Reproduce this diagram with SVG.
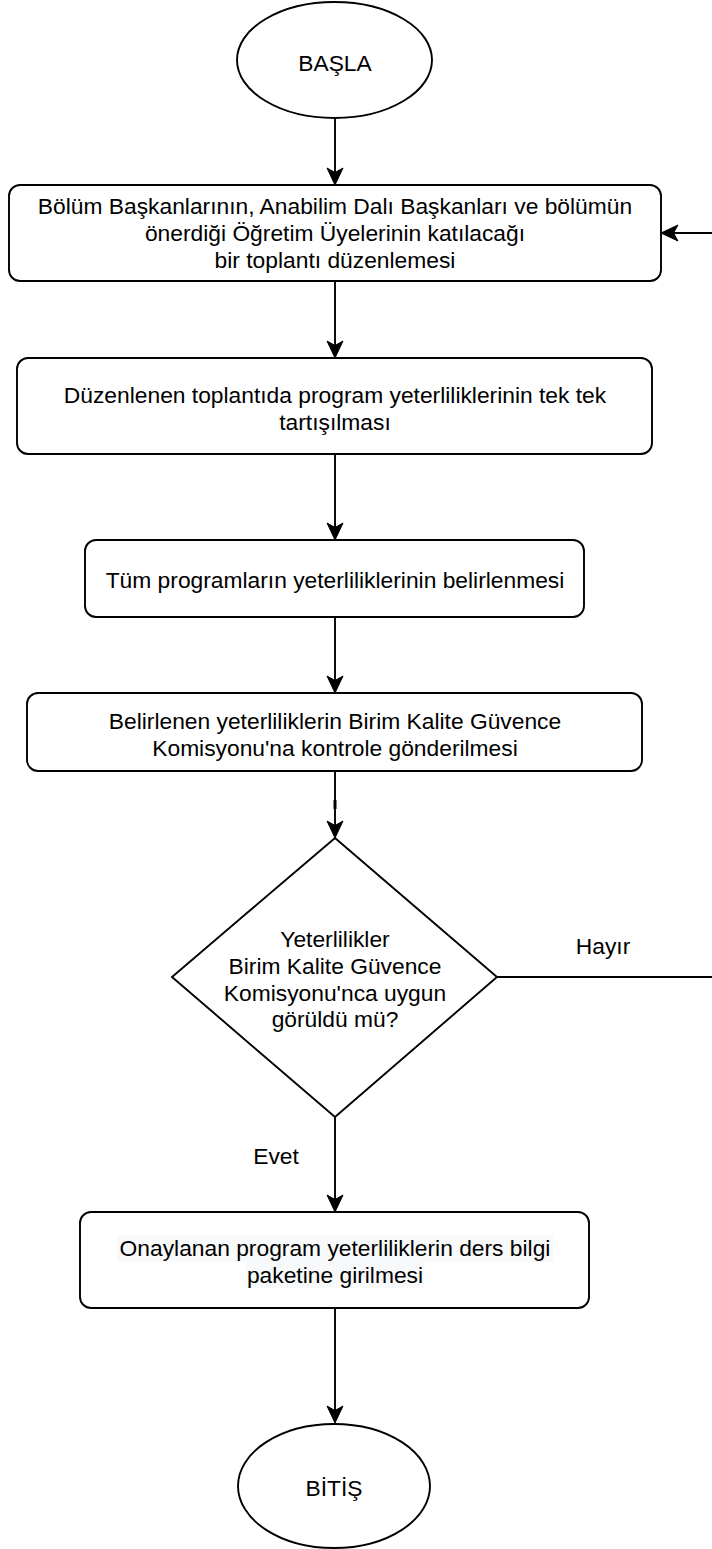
<svg xmlns="http://www.w3.org/2000/svg" width="712" height="1549" viewBox="0 0 712 1549">
<style>
.shape{fill:#ffffff;stroke:#000000;stroke-width:1.9}
.conn{fill:none;stroke:#000000;stroke-width:1.9}
.t{font-family:"Liberation Sans",Arial,Helvetica,sans-serif;font-size:22.8px;fill:#000000;text-anchor:middle}
.hl{fill:#f8f9fa}
</style>
<defs>
<marker id="arr" markerUnits="userSpaceOnUse" markerWidth="22" markerHeight="20" viewBox="-16 -10 22 20" refX="0" refY="0" orient="auto">
<path d="M3,0 L-14,-8 L-9.5,0 L-14,8 Z" fill="#000000" stroke="#000000" stroke-width="1"/>
</marker>
</defs>
<rect width="712" height="1549" fill="#ffffff"/>

<g id="connectors">
<line class="conn" x1="335" y1="118" x2="335" y2="182" marker-end="url(#arr)"/>
<line class="conn" x1="335" y1="281" x2="335" y2="355" marker-end="url(#arr)"/>
<line class="conn" x1="335" y1="454" x2="335" y2="537" marker-end="url(#arr)"/>
<line class="conn" x1="335" y1="617" x2="335" y2="690" marker-end="url(#arr)"/>
<line class="conn" x1="335" y1="771" x2="335" y2="835" marker-end="url(#arr)"/>
<line x1="335" y1="800" x2="335" y2="809" stroke="#000000" stroke-width="3"/>
<line class="conn" x1="497" y1="977" x2="712" y2="977"/>
<line class="conn" x1="712" y1="233" x2="664" y2="233" marker-end="url(#arr)"/>
<line class="conn" x1="335" y1="1117" x2="335" y2="1209" marker-end="url(#arr)"/>
<line class="conn" x1="335" y1="1308" x2="335" y2="1420" marker-end="url(#arr)"/>
<text class="t" x="603" y="954">Hayır</text>
<text class="t" x="276" y="1164">Evet</text>
</g>

<g id="start">
<ellipse class="shape" cx="334.5" cy="60" rx="97.5" ry="58"/>
<text class="t" x="335" y="71">BAŞLA</text>
</g>

<g id="step1">
<rect class="shape" x="9" y="185" width="652" height="96" rx="11" ry="11"/>
<text class="t" x="335" y="214">Bölüm Başkanlarının, Anabilim Dalı Başkanları ve bölümün</text>
<text class="t" x="335" y="241">önerdiği Öğretim Üyelerinin katılacağı</text>
<text class="t" x="335" y="268">bir toplantı düzenlemesi</text>
</g>

<g id="step2">
<rect class="shape" x="17" y="358" width="635" height="96" rx="11" ry="11"/>
<text class="t" x="335" y="403">Düzenlenen toplantıda program yeterliliklerinin tek tek</text>
<text class="t" x="335" y="430">tartışılması</text>
</g>

<g id="step3">
<rect class="shape" x="85" y="540" width="499" height="77" rx="11" ry="11"/>
<text class="t" x="335" y="588">Tüm programların yeterliliklerinin belirlenmesi</text>
</g>

<g id="step4">
<rect class="shape" x="27" y="693" width="615" height="78" rx="11" ry="11"/>
<text class="t" x="335" y="729">Belirlenen yeterliliklerin Birim Kalite Güvence</text>
<text class="t" x="335" y="756">Komisyonu'na kontrole gönderilmesi</text>
</g>

<g id="decision">
<polygon class="shape" points="335,838 497,977 335,1117 172,977"/>
<text class="t" x="335" y="947">Yeterlilikler</text>
<text class="t" x="335" y="974">Birim Kalite Güvence</text>
<text class="t" x="335" y="1001">Komisyonu'nca uygun</text>
<text class="t" x="335" y="1027">görüldü mü?</text>
</g>

<g id="step5">
<rect class="shape" x="80" y="1212" width="509" height="96" rx="11" ry="11"/>
<rect class="hl" x="117" y="1235" width="436" height="27"/>
<rect class="hl" x="246" y="1262" width="178" height="26"/>
<text class="t" x="335" y="1256">Onaylanan program yeterliliklerin ders bilgi</text>
<text class="t" x="335" y="1283">paketine girilmesi</text>
</g>

<g id="end">
<ellipse class="shape" cx="334" cy="1486" rx="96" ry="62"/>
<text class="t" x="334" y="1496">BİTİŞ</text>
</g>
</svg>
